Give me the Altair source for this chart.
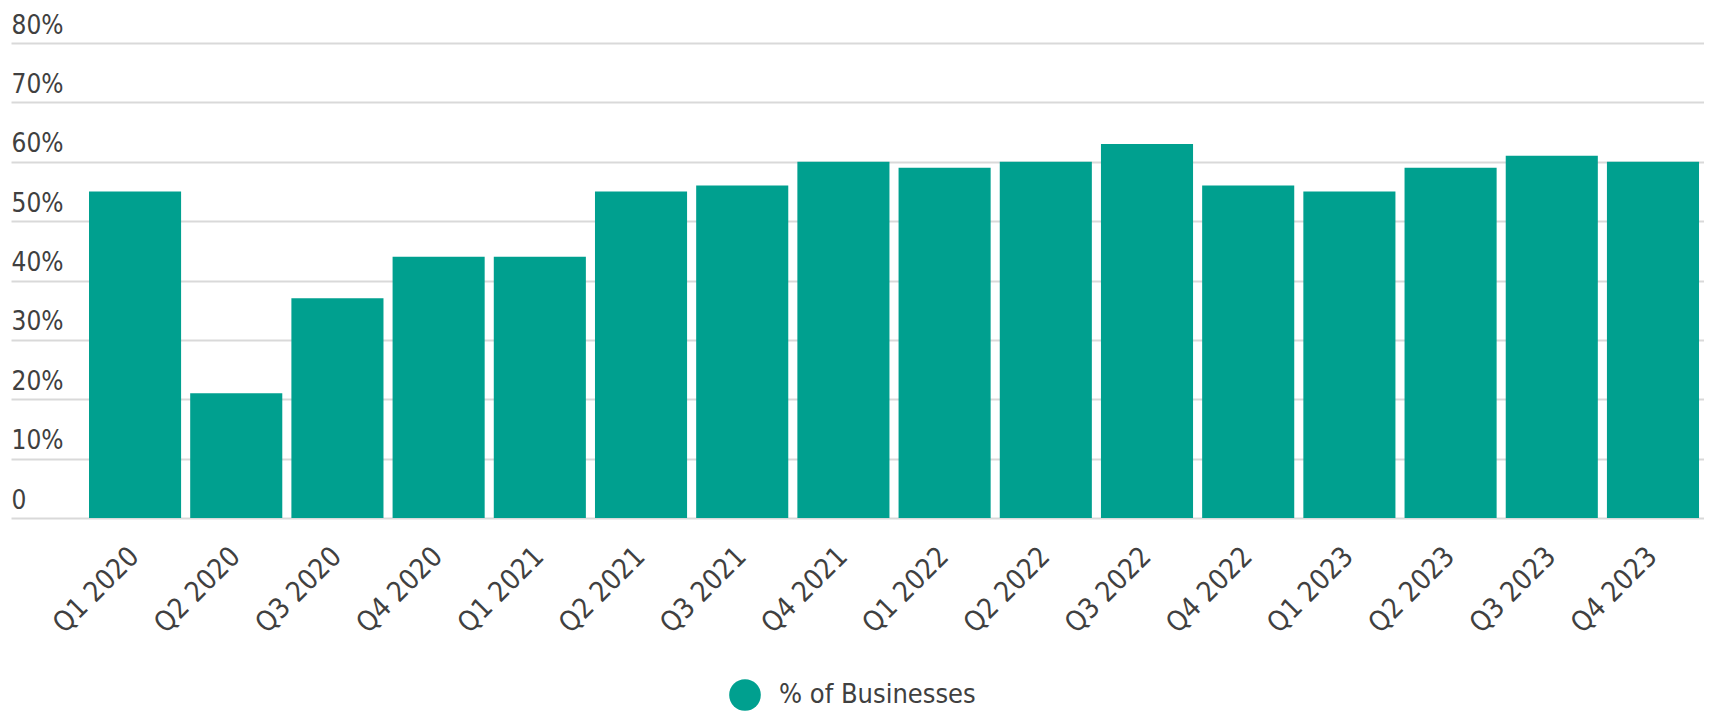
import altair as alt
import pandas as pd

quarters = ["Q1 2020", "Q2 2020", "Q3 2020", "Q4 2020",
            "Q1 2021", "Q2 2021", "Q3 2021", "Q4 2021",
            "Q1 2022", "Q2 2022", "Q3 2022", "Q4 2022",
            "Q1 2023", "Q2 2023", "Q3 2023", "Q4 2023"]
values = [55, 21, 37, 44, 44, 55, 56, 60, 59, 60, 63, 56, 55, 59, 61, 60]
series_name = "% of Businesses"
y_ticks = [0, 10, 20, 30, 40, 50, 60, 70, 80]

df = pd.DataFrame({"quarter": quarters, "value": values, "series": series_name})

FONT = "DejaVu Sans Condensed"
TEXT = "#404040"
BAR = "#00a08f"

chart = alt.Chart(df).mark_bar().encode(
    x=alt.X(
        "quarter:N", sort=quarters,
        scale=alt.Scale(paddingInner=0.09, paddingOuter=0.41, align=0.94),
        axis=alt.Axis(title=None, labelAngle=-45, labelFontSize=28, labelFont=FONT,
                      labelColor=TEXT, domain=False, ticks=False, labelPadding=24,
                      labelOffset=-10, labelOverlap=False, labelLimit=0),
    ),
    y=alt.Y(
        "value:Q",
        scale=alt.Scale(domain=[0, 80], nice=False),
        axis=alt.Axis(values=y_ticks, title=None,
                      labelExpr="datum.value == 0 ? '0' : datum.value + '%'",
                      labelAlign="left", labelBaseline="alphabetic", labelOffset=-10,
                      labelPadding=0, ticks=False, tickSize=0, domain=False,
                      gridColor="#d9d9d9", gridWidth=2, labelFontSize=26,
                      labelFont=FONT, labelColor=TEXT, labelOverlap=False,
                      labelBound=False),
    ),
    color=alt.Color(
        "series:N", scale=alt.Scale(range=[BAR]),
        legend=alt.Legend(title=None, orient="none", legendX=718, legendY=636,
                          symbolType="circle", symbolSize=1000, labelFontSize=27,
                          labelFont=FONT, labelColor=TEXT, padding=0,
                          symbolStrokeWidth=0, labelOffset=18, labelLimit=0),
    ),
).properties(
    width=1693, height=475,
    autosize=alt.AutoSizeParams(type="none"),
    padding={"left": 3, "top": 35, "right": 0, "bottom": 195},
).configure_view(stroke=None)

chart.save("out.html", embed_options={"renderer": "svg", "actions": False})
